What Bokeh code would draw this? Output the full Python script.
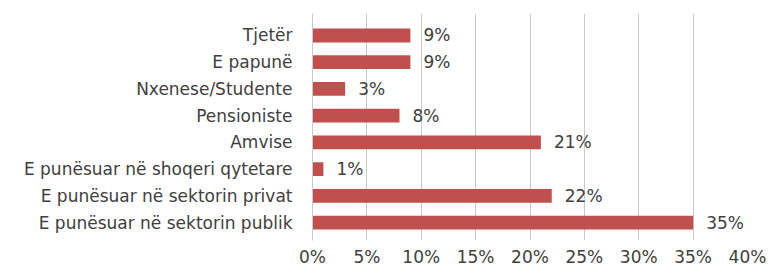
from bokeh.plotting import figure
from bokeh.models import ColumnDataSource, Range1d, FixedTicker, PrintfTickFormatter
from bokeh.core.properties import value
from bokeh.embed import file_html
from bokeh.resources import INLINE

# Data (top to bottom as shown)
categories = [
    "Tjetër",
    "E papunë",
    "Nxenese/Studente",
    "Pensioniste",
    "Amvise",
    "E punësuar në shoqeri qytetare",
    "E punësuar në sektorin privat",
    "E punësuar në sektorin publik",
]
values = [9, 9, 3, 8, 21, 1, 22, 35]
x_ticks = [0, 5, 10, 15, 20, 25, 30, 35, 40]

n = len(categories)
ypos = [n - 1 - i for i in range(n)]
labels = [f"{v}%" for v in values]

src = ColumnDataSource(dict(y=ypos, v=values, lab=labels, cat=categories))

FONT = "DejaVu Sans"
FS = "17px"
TXT = "#404040"
GRID = "#CACACA"

p = figure(
    width=768, height=269,
    output_backend="svg", toolbar_location=None,
    x_range=Range1d(0, 40), y_range=Range1d(-0.67, n - 1 + 0.82),
    min_border_left=312, min_border_right=21,
    min_border_top=13, min_border_bottom=29,
)
p.outline_line_color = None
p.background_fill_color = "white"
p.border_fill_color = "white"

p.hbar(y="y", right="v", left=0, height=0.52, source=src,
       fill_color="#C0504D", line_color=None)

p.text(x="v", y="y", text="lab", source=src, x_offset=13,
       text_baseline="middle", text_align="left",
       text_font=value(FONT), text_font_size=FS, text_color=TXT)

# x axis
p.xaxis.ticker = FixedTicker(ticks=x_ticks)
p.xaxis.formatter = PrintfTickFormatter(format="%d%%")
p.xaxis.axis_line_color = None
p.xaxis.major_tick_line_color = None
p.xaxis.minor_tick_line_color = None
p.xaxis.major_tick_out = 0
p.xaxis.major_tick_in = 0
p.xaxis.major_label_standoff = 6
p.xaxis.major_label_text_font = FONT
p.xaxis.major_label_text_font_size = FS
p.xaxis.major_label_text_color = TXT

# y axis
p.yaxis.ticker = FixedTicker(ticks=ypos)
p.yaxis.major_label_overrides = {y: c for y, c in zip(ypos, categories)}
p.yaxis.axis_line_color = GRID
p.yaxis.major_tick_line_color = None
p.yaxis.minor_tick_line_color = None
p.yaxis.major_tick_out = 0
p.yaxis.major_tick_in = 0
p.yaxis.major_label_standoff = 20
p.yaxis.major_label_text_font = FONT
p.yaxis.major_label_text_font_size = FS
p.yaxis.major_label_text_color = TXT

p.xgrid.ticker = FixedTicker(ticks=x_ticks)
p.xgrid.grid_line_color = GRID
p.ygrid.grid_line_color = None

open("out.html", "w").write(file_html(p, INLINE))
